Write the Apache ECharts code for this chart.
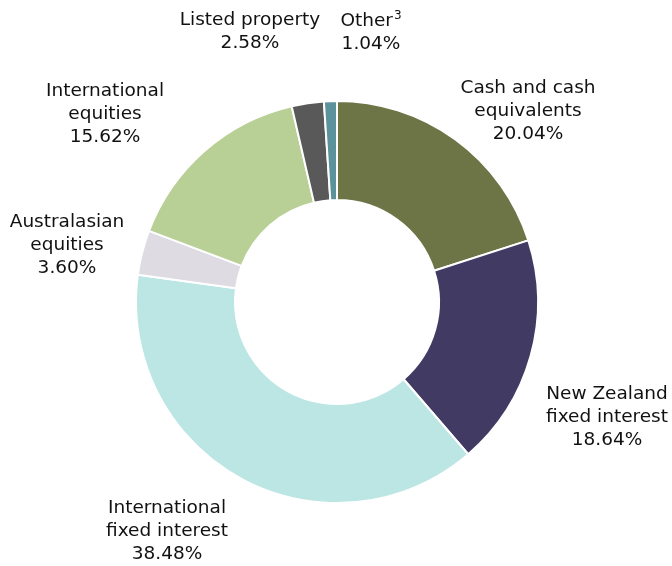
<!DOCTYPE html>
<html>
<head>
<meta charset="utf-8">
<script src="https://cdn.jsdelivr.net/npm/echarts@6/dist/echarts.min.js"></script>
<style>
  html, body { margin: 0; padding: 0; background: #fff; }
  #chart { width: 672px; height: 566px; }
</style>
</head>
<body>
<div id="chart"></div>
<script>
// asset allocation (clockwise from 12 o'clock)
const categories = [
  'Cash and cash\nequivalents',
  'New Zealand\nfixed interest',
  'International\nfixed interest',
  'Australasian\nequities',
  'International\nequities',
  'Listed property',
  'Other'
];
const footnotes = ['', '', '', '', '', '', '3'];
const shares = [20.04, 18.64, 38.48, 3.60, 15.62, 2.58, 1.04];
const colors = ['#6d7546', '#413a62', '#bbe6e4', '#dedbe3', '#b8cf96', '#595959', '#5b929c'];

// where each label block sits (centre of text)
const labelPos = [[528, 111], [607, 417], [167, 531], [67, 245], [105, 114], [250, 32], [371, 33]];

const chart = echarts.init(document.getElementById('chart'));
chart.setOption({
  animation: false,
  series: [{
    type: 'pie',
    center: [337, 302],
    radius: [102, 201],
    startAngle: 90,
    clockwise: true,
    avoidLabelOverlap: false,
    itemStyle: { borderColor: '#fff', borderWidth: 2 },
    label: {
      show: true,
      position: 'outside',
      formatter: p => {
        const fn = footnotes[p.dataIndex];
        return p.name + (fn ? '{sup|' + fn + '}' : '') + '\n' + p.value.toFixed(2) + '%';
      },
      fontFamily: 'DejaVu Sans',
      fontSize: 18.5,
      lineHeight: 23,
      color: '#111',
      align: 'center',
      rich: {
        sup: {
          fontFamily: 'DejaVu Sans',
          fontSize: 12,
          color: '#111',
          verticalAlign: 'top',
          lineHeight: 23,
          padding: [0, 0, 6, 1]
        }
      }
    },
    labelLine: { show: false },
    labelLayout: p => ({
      x: labelPos[p.dataIndex][0],
      y: labelPos[p.dataIndex][1],
      align: 'center',
      verticalAlign: 'middle'
    }),
    emphasis: { disabled: true },
    data: categories.map((c, i) => ({
      name: c,
      value: shares[i],
      itemStyle: { color: colors[i] }
    }))
  }]
});
</script>
</body>
</html>
